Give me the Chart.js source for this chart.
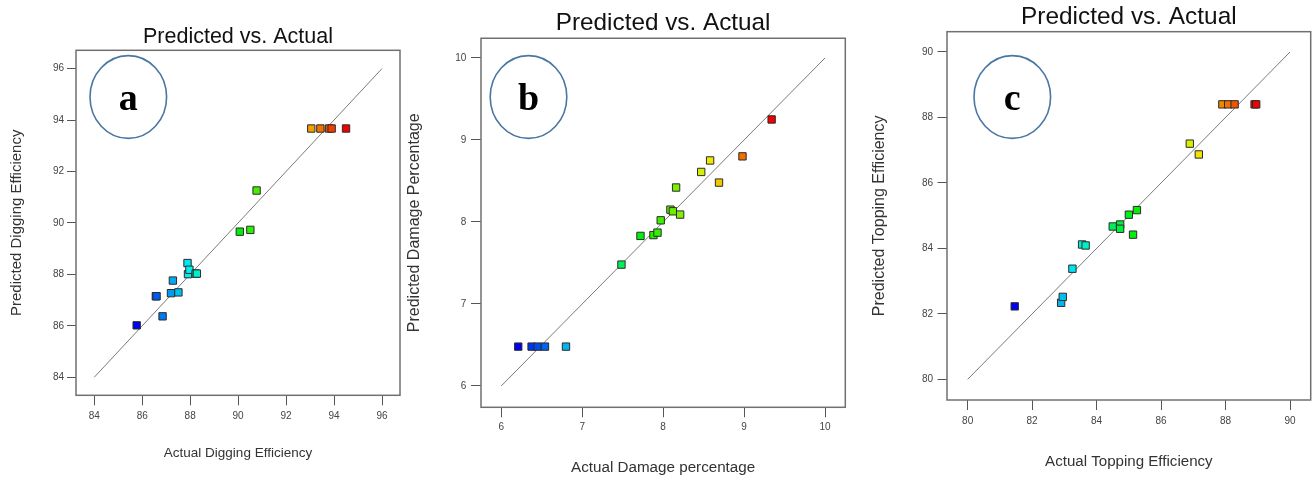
<!DOCTYPE html>
<html>
<head>
<meta charset="utf-8">
<script src="https://cdn.jsdelivr.net/npm/chart.js@4"></script>
<style>
  html, body { margin: 0; padding: 0; background: #fff; }
  #wrap { position: relative; width: 1312px; height: 479px; overflow: hidden; }
  canvas { position: absolute; top: 0; }
</style>
</head>
<body>
<div id="wrap">
  <canvas id="chartA" width="440" height="479" style="left:0px"></canvas>
  <canvas id="chartB" width="468" height="479" style="left:400px"></canvas>
  <canvas id="chartC" width="444" height="479" style="left:868px"></canvas>
</div>
<script>
// (a) digging efficiency
const aActual    = [85.77, 86.57, 86.60, 86.85, 87.20, 87.28, 87.51, 87.89, 87.91, 87.97, 88.23, 88.28, 90.07, 90.51, 90.77, 93.05, 93.43, 93.79, 93.90, 94.50];
const aPredicted = [86.02, 87.15, 87.15, 86.37, 87.27, 87.76, 87.30, 88.44, 88.01, 88.18, 88.03, 88.03, 89.66, 89.73, 91.26, 93.67, 93.67, 93.67, 93.67, 93.67];
const aTicks = [84, 86, 88, 90, 92, 94, 96];
const aDiag = [84, 96];

// (b) damage percentage
const bActual    = [6.21, 6.375, 6.45, 6.54, 6.80, 7.485, 7.72, 7.88, 7.93, 7.97, 8.09, 8.12, 8.21, 8.16, 8.47, 8.58, 8.69, 8.98, 9.34];
const bPredicted = [6.48, 6.48, 6.48, 6.48, 6.48, 7.48, 7.83, 7.84, 7.87, 8.02, 8.15, 8.13, 8.09, 8.42, 8.61, 8.75, 8.48, 8.80, 9.25];
const bTicks = [6, 7, 8, 9, 10];
const bDiag = [6, 10];

// (c) topping efficiency
const cActual    = [81.46, 82.90, 82.95, 83.25, 83.55, 83.66, 84.50, 84.73, 84.73, 85.00, 85.25, 85.13, 86.89, 87.17, 87.90, 88.08, 88.28, 88.90, 88.95];
const cPredicted = [82.23, 82.34, 82.52, 83.38, 84.12, 84.09, 84.67, 84.73, 84.60, 85.03, 85.17, 84.42, 87.20, 86.87, 88.40, 88.40, 88.40, 88.40, 88.40];
const cTicks = [80, 82, 84, 86, 88, 90];
const cDiag = [80, 90];

const FONT = '"Liberation Sans", Arial, sans-serif';
Chart.defaults.font.family = FONT;

// blue -> red ramp on the actual value, like Design-Expert does
function rampColors(values) {
    const lo = Math.min(...values), hi = Math.max(...values);
    return values.map(v => `hsl(${Math.round(240 * (1 - (v - lo) / (hi - lo)))}, 100%, 47%)`);
}

// box round the plot + circled panel letter
const panelMark = {
    id: 'panelMark',
    beforeDatasetsDraw(chart, args, opts) {
        const { ctx, chartArea: a } = chart;
        ctx.save();
        ctx.strokeStyle = '#707070';
        ctx.lineWidth = 1.5;
        ctx.strokeRect(a.left, a.top, a.right - a.left, a.bottom - a.top);

        ctx.strokeStyle = '#4a76a3';
        ctx.lineWidth = 1.6;
        ctx.beginPath();
        ctx.ellipse(opts.cx, opts.cy, 38.3, 41.4, 0, 0, Math.PI * 2);
        ctx.stroke();

        ctx.fillStyle = '#000';
        ctx.font = 'bold 38px "Liberation Serif", serif';
        ctx.textAlign = 'center';
        ctx.textBaseline = 'alphabetic';
        ctx.fillText(opts.letter, opts.cx, opts.baseline);
        ctx.restore();
    }
};

function buildPanel(id, p) {
    return new Chart(document.getElementById(id), {
        type: 'scatter',
        data: {
            datasets: [{
                data: p.actual.map((x, i) => ({ x: x, y: p.predicted[i] })),
                pointStyle: 'rect',
                pointRadius: 5.2,
                backgroundColor: rampColors(p.actual),
                borderColor: '#2b2b2b',
                borderWidth: 1,
                order: 1
            }, {
                type: 'line',
                data: p.diag.map(v => ({ x: v, y: v })),
                borderColor: '#7a7a7a',
                borderWidth: 1,
                pointRadius: 0,
                order: 2
            }]
        },
        options: {
            responsive: false,
            animation: false,
            events: [],
            layout: { autoPadding: false, padding: { left: 0, right: p.padRight, top: 0, bottom: 0 } },
            plugins: {
                legend: { display: false },
                tooltip: { enabled: false },
                title: {
                    display: true,
                    fullSize: false,
                    text: 'Predicted vs. Actual',
                    color: '#111',
                    font: { family: FONT, size: p.titleSize, weight: 'normal' },
                    padding: { top: p.titleTop, bottom: p.titleBottom }
                },
                panelMark: { letter: p.letter, cx: p.cx, cy: 97, baseline: 110 }
            },
            scales: {
                x: {
                    type: 'linear',
                    position: 'bottom',
                    min: p.xMin,
                    max: p.xMax,
                    afterBuildTicks: s => { s.ticks = p.ticks.map(v => ({ value: v })); },
                    // fixed axis height, and no extra room kept for edge labels
                    afterFit: s => { s.height = p.xAxisHeight; s.paddingLeft = 0; s.paddingRight = 0; },
                    grid: { drawOnChartArea: false, tickLength: 10, color: '#555' },
                    border: { display: false },
                    ticks: { padding: p.xTickPad, color: '#444', font: { size: 10 }, maxRotation: 0, autoSkip: false },
                    title: {
                        display: true, text: p.xTitle, color: '#333',
                        font: { size: p.xTitleSize }, padding: { top: 0, bottom: p.xTitlePad }
                    }
                },
                y: {
                    type: 'linear',
                    position: 'left',
                    min: p.yMin,
                    max: p.yMax,
                    afterBuildTicks: s => { s.ticks = p.ticks.map(v => ({ value: v })); },
                    afterFit: s => { s.width = p.yAxisWidth; s.paddingTop = 0; s.paddingBottom = 0; },
                    grid: { drawOnChartArea: false, tickLength: p.yTickLen, color: '#555' },
                    border: { display: false },
                    ticks: { padding: p.yTickPad, color: '#444', font: { size: 10 }, autoSkip: false },
                    title: {
                        display: true, text: p.yTitle, color: '#333',
                        font: { size: p.yTitleSize }, padding: { top: p.yTitlePad, bottom: 0 }
                    }
                }
            }
        },
        plugins: [panelMark]
    });
}

buildPanel('chartA', {
    actual: aActual, predicted: aPredicted, ticks: aTicks, diag: aDiag, letter: 'a', cx: 128.3,
    xTitle: 'Actual Digging Efficiency', yTitle: 'Predicted Digging Efficiency',
    xMin: 83.24, xMax: 96.75, yMin: 83.3, yMax: 96.71,
    padRight: 40, titleSize: 21.5, titleTop: 24.5, titleBottom: 0,
    yAxisWidth: 76, xAxisHeight: 83.7, yTickLen: 9, yTickPad: 3, xTickPad: 4.7,
    yTitleSize: 15, yTitlePad: 8.2, xTitleSize: 13.5, xTitlePad: 17.5
});

buildPanel('chartB', {
    actual: bActual, predicted: bPredicted, ticks: bTicks, diag: bDiag, letter: 'b', cx: 128.5,
    xTitle: 'Actual Damage percentage', yTitle: 'Predicted Damage Percentage',
    xMin: 5.75, xMax: 10.25, yMin: 5.74, yMax: 10.24,
    padRight: 22.7, titleSize: 24.3, titleTop: 8.9, titleBottom: 0.2,
    yAxisWidth: 81, xAxisHeight: 71.7, yTickLen: 10, yTickPad: 4.7, xTickPad: 4.4,
    yTitleSize: 16, yTitlePad: 5, xTitleSize: 15.2, xTitlePad: 2.4
});

buildPanel('chartC', {
    actual: cActual, predicted: cPredicted, ticks: cTicks, diag: cDiag, letter: 'c', cx: 144.3,
    xTitle: 'Actual Topping Efficiency', yTitle: 'Predicted Topping Efficiency',
    xMin: 79.36, xMax: 90.64, yMin: 79.37, yMax: 90.62,
    padRight: 1.3, titleSize: 24.4, titleTop: 2.4, titleBottom: 0,
    yAxisWidth: 79, xAxisHeight: 79, yTickLen: 9.5, yTickPad: 4.4, xTickPad: 5,
    yTitleSize: 16, yTitlePad: 1.6, xTitleSize: 15.1, xTitlePad: 7.95
});
</script>
</body>
</html>
